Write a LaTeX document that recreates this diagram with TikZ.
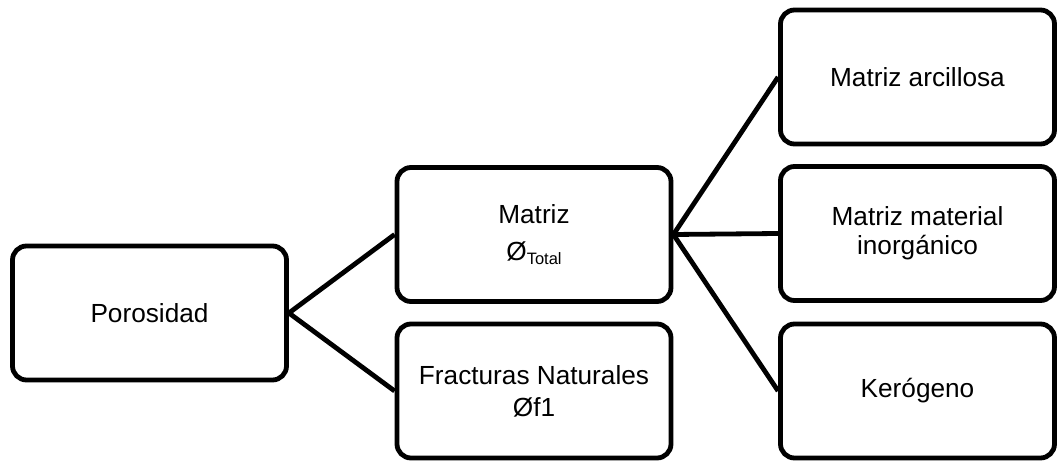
\documentclass[tikz,border=0pt]{standalone}
\usepackage{fontspec}
\setmainfont{Liberation Sans}
\begin{document}
\begin{tikzpicture}[x=1pt,y=-1pt,
  box/.style={draw=black,line width=4.8pt,rounded corners=14pt,fill=white,
    minimum width=274pt,minimum height=134pt,align=center,inner sep=0pt,
    font=\fontsize{26.2}{29}\selectfont},
  link/.style={draw=black,line width=4.8pt}]
\useasboundingbox (0,0) rectangle (1058,462);
\node[box] (por) at (149.5,313) {Porosidad};
\node[box] (mat) at (534,234.5) {Matriz\\[8pt]Ø\raisebox{-4.5pt}{\fontsize{16.5}{16.5}\selectfont Total}};
\node[box] (fra) at (534,391) {Fracturas Naturales\\[3pt]Øf1};
\node[box] (arc) at (917.5,77) {Matriz arcillosa};
\node[box] (ino) at (917.5,233.5) {Matriz material\\inorgánico};
\node[box] (ker) at (917.5,391) {Kerógeno};
\draw[link] (mat.west) -- (por.east) -- (fra.west);
\draw[link] (arc.west) -- (mat.east) -- (ker.west);
\draw[link] (mat.east) -- (ino.west);
\end{tikzpicture}
\end{document}
